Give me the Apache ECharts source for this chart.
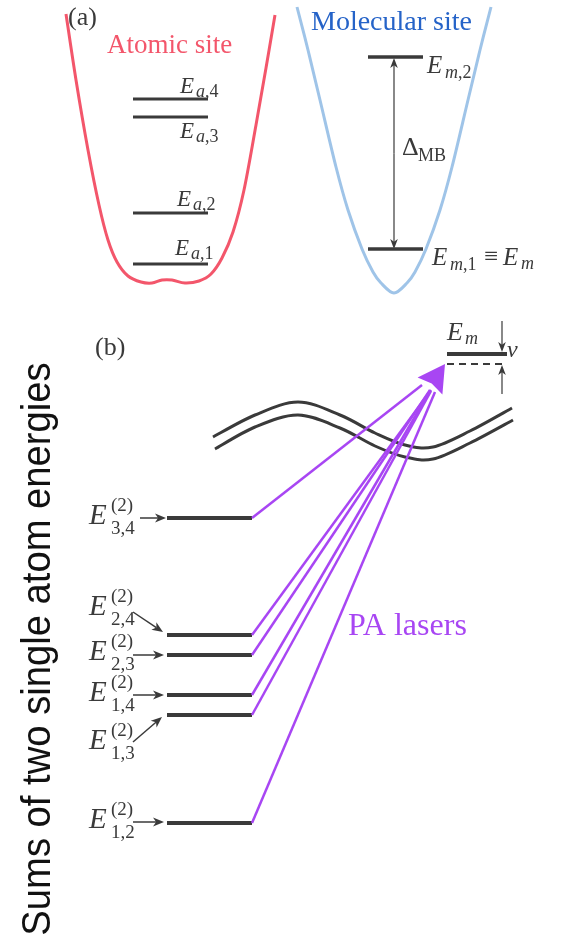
<!DOCTYPE html>
<html><head><meta charset="utf-8">
<script src="https://cdn.jsdelivr.net/npm/echarts@6/dist/echarts.min.js"></script>
<style>html,body{margin:0;padding:0;background:#fff}#c{width:566px;height:942px}</style>
</head><body><div id="c"></div>
<script>
// ---------- Panel labels ----------
const panelTags = ['(a)', '(b)'];
const panelTagAt = [[68, 27], [95, 357]];
const siteNames = ['Atomic site', 'Molecular site'];
const siteNameAt = [[107, 55], [311, 32]];

// ---------- Panel (a): potential wells and levels ----------
const atomicWell = [[66,14],[76,80],[88,150],[99,205],[108,240],[117,262],[128,276],[141,282],[152,283],[162,280],[172,280],[185,283],[199,281],[211,274],[222,258],[233,232],[244,190],[256,125],[266,68],[275,15]];
const molecularWell = [[297,7],[308,50],[320,100],[336,167],[348,210],[362,249],[373,272],[381,283],[394,293],[407,283],[415,272],[426,249],[440,210],[452,167],[468,100],[480,50],[491,7]];
const atomicLevelY = [99, 117, 213, 264];          // E_a,4  E_a,3  E_a,2  E_a,1
const atomicLevelIdx = ['4', '3', '2', '1'];
const atomicLevelSpan = [133, 208];
const atomicLabelAt = [[180,95],[180,140],[177,208],[175,257]];
const molecularLevelY = [57, 249];                 // E_m,2  E_m,1
const molecularLevelSpan = [368, 423];
const deltaMB = [394, 58, 249];                    // x, top, bottom

// ---------- Panel (b): pair sums and PA lasers ----------
const pairNames = ['3,4', '2,4', '2,3', '1,4', '1,3', '1,2'];
const pairLevelY = [518, 635, 655, 695, 715, 823];
const pairLevelSpan = [167, 252];
const pairLabelBase = [526, 617, 662, 703, 751, 830];
const pairPointerFrom = [[140,518],[133,612],[133,655],[133,695],[133,742],[133,822]];
const pairPointerTo = [[166,518],[163,632],[164,655],[164,695],[162,717],[164,822]];
const laserTargets = [[422,385],[431,390],[430,390],[430,391],[431,391],[435,392]];
const moleculeLevelY = 354;
const detunedLevelY = 364;
const moleculeLevelSpan = [447, 507];
const laserArrowTip = [445, 364];
const laserArrowBase = [430, 386];
const nuArrows = [[502,321,502,352],[502,394,502,365]];
const barrierUpper = [[213,437],[255,415],[298,402],[340,415],[375,433],[405,445],[433,447],[470,431],[512,408]];
const barrierLower = [[215,449],[255,427],[298,415],[340,428],[375,446],[405,457],[433,459],[470,443],[513,420]];

const ink = '#3a3a3a', red = '#f3566b', blue = '#9fc4e8', purple = '#a846f3';
const serif = '"Liberation Serif","DejaVu Serif",serif';
const sans = '"Liberation Sans",Arial,sans-serif';

function seg(data, color, width, extra) {
  return Object.assign({ type: 'line', data: data, symbol: 'none', silent: true, animation: false,
    lineStyle: { color: color, width: width }, z: 2 }, extra || {});
}

// smooth curve through read points (Catmull-Rom drawn as cubic Bezier in pixel space)
function curve(points, color, width) {
  return {
    type: 'custom', coordinateSystem: 'cartesian2d', silent: true, animation: false, z: 2,
    data: points,
    renderItem: function (params, api) {
      if (params.dataIndex !== 0) return null;
      const P = points.map(p => api.coord(p));
      let d = 'M' + P[0][0] + ' ' + P[0][1];
      for (let i = 0; i < P.length - 1; i++) {
        const p0 = P[Math.max(i - 1, 0)], p1 = P[i], p2 = P[i + 1], p3 = P[Math.min(i + 2, P.length - 1)];
        const c1 = [p1[0] + (p2[0] - p0[0]) / 6, p1[1] + (p2[1] - p0[1]) / 6];
        const c2 = [p2[0] - (p3[0] - p1[0]) / 6, p2[1] - (p3[1] - p1[1]) / 6];
        d += ' C' + c1[0] + ' ' + c1[1] + ' ' + c2[0] + ' ' + c2[1] + ' ' + p2[0] + ' ' + p2[1];
      }
      return { type: 'path', shape: { pathData: d }, style: { stroke: color, lineWidth: width, fill: null } };
    }
  };
}

const series = [];
series.push(curve(atomicWell, red, 3));
series.push(curve(molecularWell, blue, 3));
atomicLevelY.forEach(y => series.push(seg([[atomicLevelSpan[0], y], [atomicLevelSpan[1], y]], ink, 3)));
molecularLevelY.forEach(y => series.push(seg([[molecularLevelSpan[0], y], [molecularLevelSpan[1], y]], ink, 3.5)));
pairLevelY.forEach(y => series.push(seg([[pairLevelSpan[0], y], [pairLevelSpan[1], y]], ink, 4)));
series.push(seg([[moleculeLevelSpan[0], moleculeLevelY], [moleculeLevelSpan[1], moleculeLevelY]], ink, 4));
series.push(seg([[moleculeLevelSpan[0], detunedLevelY], [moleculeLevelSpan[1], detunedLevelY]], ink, 2, { lineStyle: { color: ink, width: 2, type: [7, 5] } }));
series.push(curve(barrierUpper, ink, 3));
series.push(curve(barrierLower, ink, 3));
pairLevelY.forEach((y, i) => series.push(seg([[pairLevelSpan[1], y], laserTargets[i]], purple, 2.5, { z: 3 })));

// black arrows (line + stealth head at the end point)
const blackArrows = [[deltaMB[0], (deltaMB[1] + deltaMB[2]) / 2, deltaMB[0], deltaMB[1]],
                     [deltaMB[0], (deltaMB[1] + deltaMB[2]) / 2, deltaMB[0], deltaMB[2]]]
  .concat(nuArrows)
  .concat(pairPointerFrom.map((p, i) => [p[0], p[1], pairPointerTo[i][0], pairPointerTo[i][1]]));
const arrowSize = blackArrows.map((a, i) => i < 4 ? [10, 3.8, 1.2] : [11, 4.5, 1.5]);

series.push({
  type: 'custom', coordinateSystem: 'cartesian2d', silent: true, animation: false, z: 5,
  encode: { x: [0, 2], y: [1, 3] },
  data: blackArrows,
  renderItem: function (params, api) {
    const p0 = api.coord([api.value(0), api.value(1)]);
    const p1 = api.coord([api.value(2), api.value(3)]);
    const s = arrowSize[params.dataIndex];
    const dx = p1[0] - p0[0], dy = p1[1] - p0[1], len = Math.hypot(dx, dy);
    const ux = dx / len, uy = dy / len, px = -uy, py = ux;
    const L = s[0], Wd = s[1];
    const bx = p1[0] - ux * L, by = p1[1] - uy * L;
    return { type: 'group', children: [
      { type: 'line', shape: { x1: p0[0], y1: p0[1], x2: bx + ux * 3, y2: by + uy * 3 }, style: { stroke: ink, lineWidth: s[2] } },
      { type: 'polygon', shape: { points: [p1, [bx + px * Wd, by + py * Wd], [p1[0] - ux * L * 0.72, p1[1] - uy * L * 0.72], [bx - px * Wd, by - py * Wd]] }, style: { fill: ink } }
    ] };
  }
});

// purple arrowhead
series.push({
  type: 'custom', coordinateSystem: 'cartesian2d', silent: true, animation: false, z: 6,
  encode: { x: [0, 2], y: [1, 3] },
  data: [[laserArrowBase[0], laserArrowBase[1], laserArrowTip[0], laserArrowTip[1]]],
  renderItem: function (params, api) {
    const b = api.coord([api.value(0), api.value(1)]);
    const t = api.coord([api.value(2), api.value(3)]);
    const dx = t[0] - b[0], dy = t[1] - b[1], len = Math.hypot(dx, dy);
    const ux = dx / len, uy = dy / len, px = -uy, py = ux, Wd = 15;
    return { type: 'polygon', shape: { points: [t, [b[0] + px * Wd, b[1] + py * Wd], [b[0] + ux * 3, b[1] + uy * 3], [b[0] - px * Wd, b[1] - py * Wd]] }, style: { fill: purple } };
  }
});

// ---------- text ----------
const texts = [];
function T(x, base, size, str, color, font, extra) { texts.push(Object.assign({ x: x, base: base, size: size, str: str, color: color || ink, font: font || serif }, extra || {})); }
panelTags.forEach((t, i) => T(panelTagAt[i][0], panelTagAt[i][1], 26, '{n|' + t + '}'));
T(siteNameAt[0][0], siteNameAt[0][1], 27, '{n|' + siteNames[0] + '}', red);
T(siteNameAt[1][0], siteNameAt[1][1], 28, '{n|' + siteNames[1] + '}', '#2563c8');
atomicLabelAt.forEach((p, i) => { T(p[0], p[1], 23, '{i|E}'); T(p[0] + 16, p[1] + 3, 18, '{i|a}{n|,' + atomicLevelIdx[i] + '}'); });
T(427, 75, 25, '{i|E}'); T(445, 79, 18, '{i|m}{n|,2}');
T(432, 267, 25, '{i|E}'); T(450, 271, 18, '{i|m}{n|,1}'); T(484, 266, 25, '{n|≡}'); T(503, 267, 25, '{i|E}'); T(521, 270, 18, '{i|m}');
T(402, 157, 26, '{n|Δ}'); T(418, 162, 18, '{n|MB}');
T(447, 342, 26, '{i|E}'); T(465, 345, 18, '{i|m}');
T(507, 359, 24, '{i|ν}');
pairNames.forEach((nm, i) => { const b = pairLabelBase[i]; T(89, b, 29, '{i|E}'); T(111, b - 14, 19, '{n|(2)}'); T(111, b + 9, 19, '{n|' + nm + '}'); });
T(348, 637, 32, '{n|PA lasers}', purple);
const axisTitle = 'Sums of two single atom energies';
T(39, 649, 40, '{n|' + axisTitle + '}', '#111', sans, { rotation: Math.PI / 2, center: true, scaleX: 0.955 });

series.push({
  type: 'custom', coordinateSystem: 'cartesian2d', silent: true, animation: false, z: 7,
  data: texts.map(t => [t.x, t.base]),
  renderItem: function (params, api) {
    const t = texts[params.dataIndex];
    const p = api.coord([api.value(0), api.value(1)]);
    const y = t.center ? p[1] : p[1] - 0.34 * t.size;
    const rich = {
      i: { fontStyle: 'italic', fontSize: t.size, fontFamily: t.font, fill: t.color },
      n: { fontStyle: 'normal', fontSize: t.size, fontFamily: t.font, fill: t.color }
    };
    return { type: 'text', x: p[0], y: y, rotation: t.rotation || 0, scaleX: t.scaleX || 1,
      style: { text: t.str, rich: rich, fontSize: t.size, fontFamily: t.font, fill: t.color,
        align: t.center ? 'center' : 'left', verticalAlign: 'middle' } };
  }
});

const chart = echarts.init(document.getElementById('c'), null, { renderer: 'canvas' });
chart.setOption({
  animation: false,
  backgroundColor: '#fff',
  grid: { left: 0, right: 0, top: 0, bottom: 0 },
  xAxis: { type: 'value', min: 0, max: 566, show: false },
  yAxis: { type: 'value', min: 0, max: 942, inverse: true, show: false },
  series: series
});
</script>
</body></html>
